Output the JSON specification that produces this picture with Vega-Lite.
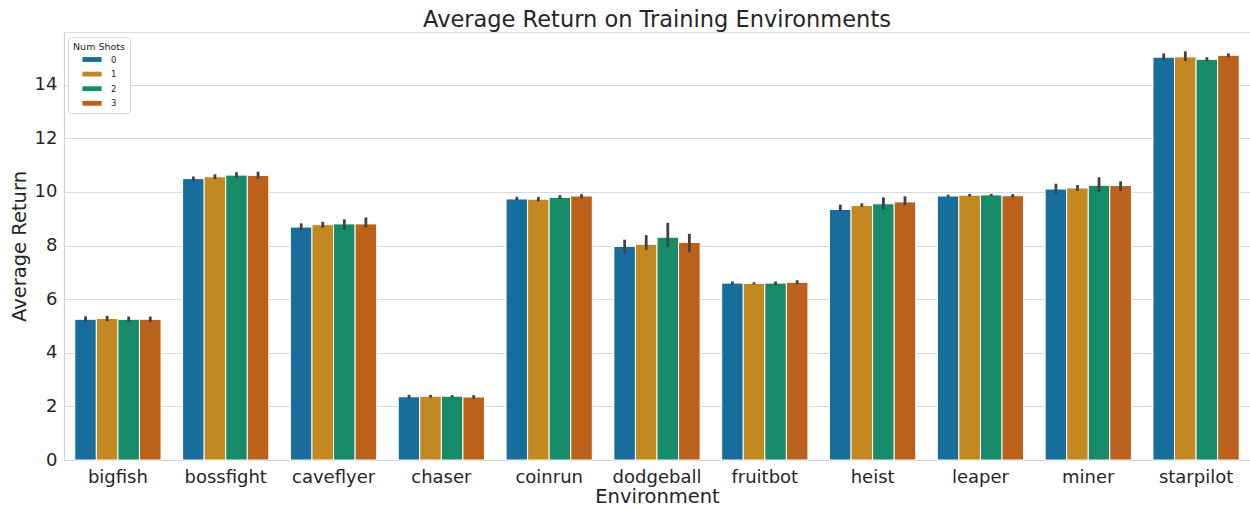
{
  "$schema": "https://vega.github.io/schema/vega-lite/v6.json",
  "width": 1186,
  "height": 428,
  "autosize": {"type": "none"},
  "padding": {"left": 64, "top": 32, "right": 0, "bottom": 48},
  "background": "white",
  "title": {"text": "Average Return on Training Environments", "fontSize": 22.5, "font": "DejaVu Sans", "fontWeight": "normal", "color": "#262626", "offset": 1, "anchor": "middle"},
  "data": {"values": [
    {"env": "bigfish", "shots": "0", "mean": 5.25, "lo": 5.15, "hi": 5.36},
    {"env": "bigfish", "shots": "1", "mean": 5.28, "lo": 5.18, "hi": 5.38},
    {"env": "bigfish", "shots": "2", "mean": 5.25, "lo": 5.15, "hi": 5.35},
    {"env": "bigfish", "shots": "3", "mean": 5.25, "lo": 5.15, "hi": 5.35},
    {"env": "bossfight", "shots": "0", "mean": 10.50, "lo": 10.42, "hi": 10.58},
    {"env": "bossfight", "shots": "1", "mean": 10.57, "lo": 10.48, "hi": 10.66},
    {"env": "bossfight", "shots": "2", "mean": 10.63, "lo": 10.53, "hi": 10.74},
    {"env": "bossfight", "shots": "3", "mean": 10.62, "lo": 10.49, "hi": 10.76},
    {"env": "caveflyer", "shots": "0", "mean": 8.69, "lo": 8.56, "hi": 8.83},
    {"env": "caveflyer", "shots": "1", "mean": 8.78, "lo": 8.67, "hi": 8.89},
    {"env": "caveflyer", "shots": "2", "mean": 8.81, "lo": 8.60, "hi": 8.98},
    {"env": "caveflyer", "shots": "3", "mean": 8.81, "lo": 8.67, "hi": 9.05},
    {"env": "chaser", "shots": "0", "mean": 2.36, "lo": 2.30, "hi": 2.43},
    {"env": "chaser", "shots": "1", "mean": 2.38, "lo": 2.33, "hi": 2.43},
    {"env": "chaser", "shots": "2", "mean": 2.38, "lo": 2.33, "hi": 2.42},
    {"env": "chaser", "shots": "3", "mean": 2.35, "lo": 2.29, "hi": 2.42},
    {"env": "coinrun", "shots": "0", "mean": 9.74, "lo": 9.68, "hi": 9.82},
    {"env": "coinrun", "shots": "1", "mean": 9.73, "lo": 9.65, "hi": 9.81},
    {"env": "coinrun", "shots": "2", "mean": 9.80, "lo": 9.74, "hi": 9.88},
    {"env": "coinrun", "shots": "3", "mean": 9.85, "lo": 9.77, "hi": 9.92},
    {"env": "dodgeball", "shots": "0", "mean": 7.97, "lo": 7.70, "hi": 8.22},
    {"env": "dodgeball", "shots": "1", "mean": 8.05, "lo": 7.84, "hi": 8.39},
    {"env": "dodgeball", "shots": "2", "mean": 8.31, "lo": 7.96, "hi": 8.85},
    {"env": "dodgeball", "shots": "3", "mean": 8.12, "lo": 7.75, "hi": 8.44},
    {"env": "fruitbot", "shots": "0", "mean": 6.60, "lo": 6.55, "hi": 6.66},
    {"env": "fruitbot", "shots": "1", "mean": 6.59, "lo": 6.55, "hi": 6.63},
    {"env": "fruitbot", "shots": "2", "mean": 6.60, "lo": 6.53, "hi": 6.66},
    {"env": "fruitbot", "shots": "3", "mean": 6.63, "lo": 6.57, "hi": 6.71},
    {"env": "heist", "shots": "0", "mean": 9.35, "lo": 9.28, "hi": 9.53},
    {"env": "heist", "shots": "1", "mean": 9.50, "lo": 9.45, "hi": 9.58},
    {"env": "heist", "shots": "2", "mean": 9.56, "lo": 9.35, "hi": 9.80},
    {"env": "heist", "shots": "3", "mean": 9.63, "lo": 9.50, "hi": 9.84},
    {"env": "leaper", "shots": "0", "mean": 9.85, "lo": 9.81, "hi": 9.90},
    {"env": "leaper", "shots": "1", "mean": 9.88, "lo": 9.83, "hi": 9.93},
    {"env": "leaper", "shots": "2", "mean": 9.89, "lo": 9.85, "hi": 9.93},
    {"env": "leaper", "shots": "3", "mean": 9.86, "lo": 9.80, "hi": 9.92},
    {"env": "miner", "shots": "0", "mean": 10.11, "lo": 9.91, "hi": 10.31},
    {"env": "miner", "shots": "1", "mean": 10.15, "lo": 10.04, "hi": 10.26},
    {"env": "miner", "shots": "2", "mean": 10.25, "lo": 10.01, "hi": 10.55},
    {"env": "miner", "shots": "3", "mean": 10.24, "lo": 10.04, "hi": 10.40},
    {"env": "starpilot", "shots": "0", "mean": 15.03, "lo": 14.93, "hi": 15.17},
    {"env": "starpilot", "shots": "1", "mean": 15.04, "lo": 14.89, "hi": 15.25},
    {"env": "starpilot", "shots": "2", "mean": 14.95, "lo": 14.88, "hi": 15.03},
    {"env": "starpilot", "shots": "3", "mean": 15.10, "lo": 15.03, "hi": 15.17}
  ]},
  "encoding": {
    "x": {"field": "env", "type": "nominal", "sort": null,
      "scale": {"paddingInner": 0.2, "paddingOuter": 0.1},
      "axis": {"title": "Environment", "labelAngle": 0, "labelFontSize": 18, "titleFontSize": 19.5, "labelPadding": 8, "titlePadding": 1.5, "grid": false, "ticks": false}},
    "xOffset": {"field": "shots", "type": "nominal", "scale": {"paddingInner": 0, "paddingOuter": 0}}
  },
  "layer": [
    {
      "mark": {"type": "bar", "stroke": "white", "strokeWidth": 1},
      "encoding": {
        "y": {"field": "mean", "type": "quantitative",
          "scale": {"domain": [0, 15.97], "nice": false, "zero": true},
          "axis": {"title": "Average Return", "values": [0, 2, 4, 6, 8, 10, 12, 14], "labelFontSize": 18, "titleFontSize": 19.5, "labelPadding": 7, "titlePadding": 5, "ticks": false, "grid": true}},
        "color": {"field": "shots", "type": "nominal",
          "scale": {"domain": ["0", "1", "2", "3"], "range": ["#176e9c", "#c38820", "#158b6a", "#ba611b"]},
          "legend": {"title": "Num Shots", "orient": "none", "legendX": 4, "legendY": 5,
            "titleFontSize": 9.5, "labelFontSize": 8.5, "titleFontWeight": "normal", "titleColor": "#262626", "labelColor": "#262626",
            "symbolType": "M-1.6,-0.4H1.6V0.4H-1.6Z", "symbolSize": 144, "symbolStrokeWidth": 0, "symbolOpacity": 1,
            "symbolOffset": 13, "labelOffset": 13, "rowPadding": 3.6, "titlePadding": 2,
            "strokeColor": "#d6d6d6", "fillColor": "white", "padding": 5, "cornerRadius": 3}}
      }
    },
    {
      "mark": {"type": "rule", "color": "#424242", "strokeWidth": 2.8},
      "encoding": {
        "y": {"field": "lo", "type": "quantitative"},
        "y2": {"field": "hi"}
      }
    }
  ],
  "config": {
    "font": "DejaVu Sans",
    "view": {"stroke": "#dadada", "strokeWidth": 1},
    "axis": {"domainColor": "#d0d0d0", "domainWidth": 1.2, "gridColor": "#dadada", "gridWidth": 1.2, "labelColor": "#262626", "titleColor": "#262626", "titleFontWeight": "normal", "labelFont": "DejaVu Sans", "titleFont": "DejaVu Sans"}
  }
}
